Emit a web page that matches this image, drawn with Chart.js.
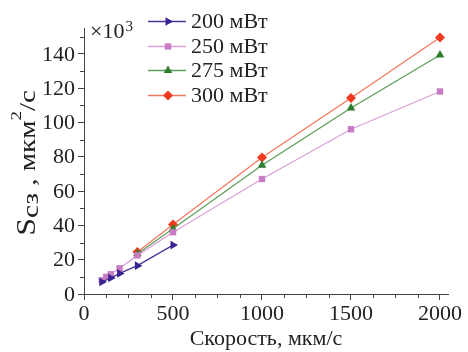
<!DOCTYPE html>
<html><head><meta charset="utf-8">
<script src="https://cdn.jsdelivr.net/npm/chart.js@4/dist/chart.umd.min.js"></script>
<style>html,body{margin:0;padding:0;background:#fff}#wrap{width:468px;height:352px}</style>
</head><body><div id="wrap"><canvas id="c" width="468" height="352"></canvas></div>
<script>
const seriesNames = ['200 мВт', '250 мВт', '275 мВт', '300 мВт'];
const speed200 = [100, 150, 200, 300, 500];
const s200 = [7, 9.3, 12, 16.5, 28.5];
const speed250 = [100, 125, 150, 200, 300, 500, 1000, 1500, 2000];
const s250 = [8, 10, 11.5, 15, 22.5, 36, 67, 96, 118];
const speed275 = [300, 500, 1000, 1500, 2000];
const s275 = [23.5, 38, 75, 108.4, 139.3];
const speed300 = [300, 500, 1000, 1500, 2000];
const s300 = [24.5, 40.5, 79.5, 114.2, 149.5];
const xTicks = [0, 500, 1000, 1500, 2000];
const yTicks = [0, 20, 40, 60, 80, 100, 120, 140];
const xTitle = 'Скорость, мкм/с';
const yTitleParts = ['S', 'сз', ' , мкм', '2', '/с'];
const multiplier = ['×10', '3'];

const pts = (xs, ys) => xs.map((x, i) => ({x, y: ys[i]}));
const SERIF = "'Liberation Serif', serif";
const TXT = '#222';
const AX = '#444';

const datasets = [
  {label: seriesNames[0], data: pts(speed200, s200), borderColor: '#4a3593', backgroundColor: '#3a2290', pointStyle: 'triangle', rotation: 90, pointRadius: 5},
  {label: seriesNames[1], data: pts(speed250, s250), borderColor: '#d9a2d8', backgroundColor: '#c77cc3', pointStyle: 'rect', pointRadius: 4.5},
  {label: seriesNames[2], data: pts(speed275, s275), borderColor: '#5c9f5c', backgroundColor: '#2f7d2f', pointStyle: 'triangle', pointRadius: 5},
  {label: seriesNames[3], data: pts(speed300, s300), borderColor: '#f07a60', backgroundColor: '#f0391d', pointStyle: 'rectRot', pointRadius: 5},
].map(d => Object.assign({borderWidth: 1.3, pointBorderColor: d.backgroundColor, pointBackgroundColor: d.backgroundColor, pointBorderWidth: 0, tension: 0, showLine: true}, d));

function txt(ctx, s, x, y, size, align, base) {
  ctx.font = size + 'px ' + SERIF;
  ctx.textAlign = align; ctx.textBaseline = base;
  ctx.fillText(s, x, y);
}

const decor = {
  id: 'decor',
  afterDraw(chart) {
    const ctx = chart.ctx;
    const xs = chart.scales.x, ys = chart.scales.y;
    ctx.save();
    ctx.strokeStyle = AX; ctx.lineWidth = 1;
    for (let v = 125; v <= 2000; v += 125) {
      if (v % 500 === 0) continue;
      const px = Math.round(xs.getPixelForValue(v)) + 0.5;
      ctx.beginPath(); ctx.moveTo(px, ys.bottom); ctx.lineTo(px, ys.bottom + 4); ctx.stroke();
    }
    for (let v = 10; v <= 150; v += 20) {
      const py = Math.round(ys.getPixelForValue(v)) + 0.5;
      ctx.beginPath(); ctx.moveTo(xs.left, py); ctx.lineTo(xs.left - 4, py); ctx.stroke();
    }
    ctx.fillStyle = TXT;
    // y tick labels
    yTicks.forEach(v => txt(ctx, String(v), 75, ys.getPixelForValue(v) + 1, 22, 'right', 'middle'));
    // multiplier
    txt(ctx, multiplier[0], 90, 38, 22, 'left', 'alphabetic');
    ctx.font = '22px ' + SERIF;
    const mw = ctx.measureText(multiplier[0]).width;
    txt(ctx, multiplier[1], 90 + mw + 1, 31, 15, 'left', 'alphabetic');
    // y title
    ctx.save();
    ctx.translate(35, 163);
    ctx.rotate(-Math.PI / 2);
    ctx.scale(1.45, 1.2);
    const sizes = [22, 20, 20, 13, 20];
    const dys = [0, 2.5, 0, -11.5, 0];
    let tot = 0;
    const ws = yTitleParts.map((t, i) => { ctx.font = sizes[i] + 'px ' + SERIF; const w = ctx.measureText(t).width; tot += w; return w; });
    let cx = -tot / 2;
    ctx.textAlign = 'left'; ctx.textBaseline = 'alphabetic';
    yTitleParts.forEach((t, i) => { ctx.font = sizes[i] + 'px ' + SERIF; ctx.fillText(t, cx, dys[i]); cx += ws[i]; });
    ctx.restore();
    // x title
    txt(ctx, xTitle, 266, 339, 22, 'center', 'middle');
    // legend
    chart.data.datasets.forEach((d, i) => {
      const y = Math.round(21 + i * 24.7) + 0.5;
      ctx.strokeStyle = d.borderColor; ctx.lineWidth = 1.3;
      ctx.beginPath(); ctx.moveTo(148, y); ctx.lineTo(186, y); ctx.stroke();
      ctx.fillStyle = d.backgroundColor;
      Chart.helpers.drawPoint(ctx, {pointStyle: d.pointStyle, rotation: d.rotation || 0, radius: d.pointRadius, borderWidth: 0}, 168, y);
      ctx.fillStyle = TXT;
      txt(ctx, d.label, 191, y + 0.5, 22, 'left', 'middle');
    });
    ctx.restore();
  }
};

new Chart(document.getElementById('c'), {
  type: 'line',
  data: {datasets},
  options: {
    responsive: false, animation: false, devicePixelRatio: 1,
    layout: {padding: {left: 0, top: 28, right: 20, bottom: 0}},
    plugins: {legend: {display: false}, tooltip: {enabled: false}},
    scales: {
      x: {
        type: 'linear', min: 0, max: 2045,
        afterBuildTicks: s => { s.ticks = xTicks.map(v => ({value: v})); },
        afterFit: s => { s.height = 58; },
        grid: {drawOnChartArea: false, drawTicks: true, tickLength: 6, color: AX},
        border: {display: true, color: AX, width: 1},
        ticks: {color: TXT, font: {family: SERIF, size: 22}, padding: 1, maxRotation: 0, callback: v => String(v)}
      },
      y: {
        type: 'linear', min: 0, max: 155,
        afterBuildTicks: s => { s.ticks = yTicks.map(v => ({value: v})); },
        afterFit: s => { s.width = 84; },
        grid: {drawOnChartArea: false, drawTicks: true, tickLength: 6, color: AX},
        border: {display: true, color: AX, width: 1},
        ticks: {display: false}
      }
    }
  },
  plugins: [decor]
});
</script></body></html>
